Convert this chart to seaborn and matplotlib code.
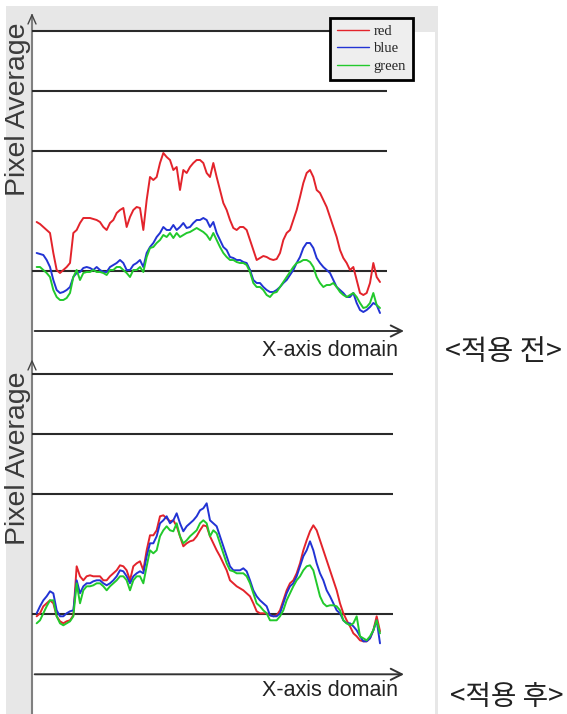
import numpy as np
import pandas as pd
import matplotlib
matplotlib.use("Agg")
import matplotlib.pyplot as plt
import seaborn as sns
from matplotlib.patches import Rectangle
from matplotlib.lines import Line2D

# ---------------- data ----------------
channels = ["red", "blue", "green"]
grid_levels = [60, 180, 240, 300]

before_red = [109, 107, 104, 101, 98, 78, 61, 58, 61, 64,
              68, 98, 101, 108, 113, 113, 113, 112, 111, 109,
              104, 101, 108, 111, 118, 121, 123, 104, 114, 121,
              124, 123, 101, 131, 154, 151, 154, 168, 178, 174,
              171, 161, 164, 141, 161, 158, 164, 168, 171, 171,
              168, 158, 154, 168, 154, 141, 128, 121, 111, 103,
              101, 104, 104, 101, 91, 81, 71, 73, 75, 74,
              72, 71, 72, 78, 91, 98, 101, 111, 121, 134,
              148, 158, 161, 154, 141, 138, 131, 124, 114, 104,
              94, 81, 73, 68, 61, 64, 51, 38, 36, 38,
              48, 68, 54, 49]
before_blue = [78, 77, 76, 71, 64, 51, 41, 38, 39, 41,
               44, 54, 58, 59, 63, 64, 63, 61, 64, 61,
               59, 59, 64, 66, 68, 71, 68, 61, 61, 66,
               68, 71, 64, 78, 84, 88, 94, 98, 104, 101,
               101, 106, 101, 104, 108, 103, 104, 108, 111, 111,
               113, 111, 104, 109, 98, 91, 84, 81, 74, 73,
               71, 71, 69, 68, 61, 51, 48, 48, 44, 41,
               39, 39, 41, 44, 48, 51, 56, 61, 68, 74,
               83, 88, 88, 83, 73, 68, 64, 61, 58, 51,
               44, 41, 38, 34, 34, 38, 28, 21, 19, 21,
               24, 28, 26, 18]
before_green = [64, 64, 61, 58, 54, 41, 34, 31, 31, 33,
                38, 54, 61, 51, 58, 59, 59, 61, 59, 59,
                58, 56, 61, 61, 64, 64, 61, 58, 54, 61,
                61, 64, 59, 74, 83, 84, 88, 91, 96, 94,
                98, 93, 98, 94, 96, 98, 99, 101, 103, 101,
                99, 96, 91, 98, 91, 84, 78, 74, 71, 71,
                69, 68, 68, 66, 59, 48, 44, 44, 41, 36,
                34, 38, 39, 44, 49, 54, 59, 64, 68, 69,
                71, 71, 69, 64, 54, 48, 44, 46, 46, 48,
                44, 39, 36, 34, 36, 38, 34, 28, 23, 24,
                28, 38, 26, 23]

after_red = [58, 61, 68, 71, 74, 71, 58, 53, 51, 53,
             54, 59, 108, 98, 94, 98, 99, 98, 98, 98,
             94, 94, 98, 101, 104, 109, 108, 104, 94, 108,
             111, 113, 104, 124, 139, 139, 144, 158, 159, 156,
             153, 154, 148, 138, 128, 131, 133, 134, 138, 144,
             149, 148, 138, 131, 124, 118, 111, 104, 94, 91,
             88, 86, 84, 81, 78, 71, 63, 61, 61, 61,
             59, 58, 59, 64, 74, 84, 91, 94, 101, 111,
             124, 134, 143, 149, 144, 134, 124, 114, 104, 94,
             84, 71, 61, 54, 48, 41, 38, 34, 33, 33,
             36, 44, 58, 43]
after_blue = [61, 68, 74, 78, 83, 81, 64, 58, 58, 61,
              63, 64, 94, 81, 88, 91, 91, 93, 94, 94,
              91, 89, 91, 94, 98, 104, 103, 98, 91, 98,
              101, 103, 101, 118, 131, 131, 138, 151, 154, 158,
              151, 154, 161, 151, 143, 148, 151, 154, 158, 164,
              166, 171, 154, 151, 148, 138, 128, 118, 108, 104,
              104, 104, 106, 103, 94, 84, 78, 74, 71, 68,
              59, 58, 58, 61, 71, 81, 88, 91, 98, 108,
              118, 124, 133, 124, 111, 101, 94, 84, 78, 71,
              64, 61, 54, 51, 51, 48, 44, 38, 33, 33,
              36, 44, 54, 31]
after_green = [51, 54, 61, 68, 74, 74, 58, 51, 49, 51,
               53, 58, 91, 71, 84, 88, 88, 89, 91, 91,
               88, 84, 88, 91, 94, 98, 98, 94, 84, 94,
               98, 98, 91, 108, 124, 121, 124, 138, 144, 148,
               144, 143, 151, 138, 131, 134, 138, 141, 144, 151,
               154, 151, 138, 144, 141, 131, 121, 111, 104, 103,
               101, 101, 101, 98, 91, 81, 71, 68, 64, 61,
               54, 54, 54, 58, 64, 74, 81, 88, 94, 98,
               104, 108, 109, 104, 91, 78, 71, 68, 69, 69,
               68, 64, 54, 51, 49, 51, 58, 38, 36, 34,
               38, 44, 54, 41]

y_label = "Pixel Average"
x_label = "X-axis domain"
panel_titles = ["<적용 전>", "<적용 후>"]

palette = {"red": "#e3232b", "blue": "#2233d4", "green": "#22c92c"}


def long_frame(red, blue, green):
    n = len(red)
    idx = np.arange(n)
    frames = []
    for name, vals in zip(channels, [red, blue, green]):
        frames.append(pd.DataFrame({"x": idx, "value": vals, "channel": name}))
    return pd.concat(frames, ignore_index=True)


df_before = long_frame(before_red, before_blue, before_green)
df_after = long_frame(after_red, after_blue, after_green)

# ---------------- drawing ----------------
sns.set_style("white")
plt.rcParams["font.family"] = ["Liberation Sans", "DejaVu Sans"]

W, H = 567, 714
fig = plt.figure(figsize=(W / 100, H / 100), dpi=100)

bg = fig.add_axes([0, 0, 1, 1])
bg.set_xlim(0, W)
bg.set_ylim(H, 0)
bg.axis("off")
bg.add_patch(Rectangle((6, 6), 432, H - 6, color="#e7e7e7", lw=0))
bg.add_patch(Rectangle((32, 32), 403, H - 32, color="white", lw=0))
# vertical axis line with chevrons
bg.plot([32, 32], [14, H], color="#808080", lw=1.5, solid_capstyle="butt")
for top in (15, 361):
    bg.plot([28, 32, 36], [top + 9, top, top + 9], color="#444444", lw=1.0)

for yc in (109, 458):
    bg.text(18, yc, y_label, rotation=90, ha="center", va="center",
            fontsize=20.5, color="#3a3a3a")
for yc in (351, 691):
    bg.text(398, yc, x_label, ha="right", va="center", fontsize=15.5,
            color="#222222")
bg.text(445, 352, panel_titles[0], ha="left", va="center", fontsize=20.5,
        family=["Noto Sans CJK KR", "DejaVu Sans"], color="#222222")
bg.text(564, 697, panel_titles[1], ha="right", va="center", fontsize=20,
        family=["Noto Sans CJK KR", "DejaVu Sans"], color="#222222")


def panel(px_top, px_bot, axis_px, df, grid_end, legend):
    rect = [32 / W, 1 - px_bot / H, (405 - 32) / W, (px_bot - px_top) / H]
    ax = fig.add_axes(rect)
    ax.patch.set_alpha(0)
    ax.hlines(grid_levels, -1.4, grid_end, color="#2a2a2a", lw=1.5, zorder=1)
    sns.lineplot(data=df, x="x", y="value", hue="channel",
                 hue_order=channels, palette=palette, estimator=None,
                 lw=1.4, ax=ax, legend=False, zorder=3)
    ax.annotate("", xy=(110.2, 0), xytext=(-0.6, 0),
                arrowprops=dict(arrowstyle="->", color="#333333", lw=1.4,
                                mutation_scale=20, shrinkA=0, shrinkB=0),
                zorder=2)
    ax.set_xlim(-1.4, 110.5)
    ax.set_ylim(axis_px - px_bot, axis_px - px_top)
    ax.axis("off")
    if legend:
        handles = [Line2D([], [], color=palette[c], lw=1.0) for c in channels]
        leg = ax.legend(handles, channels, loc="upper left",
                        bbox_to_anchor=(330 / W, 1 - 18 / H),
                        bbox_transform=fig.transFigure, borderaxespad=0,
                        prop={"family": "Liberation Serif", "size": 10.5},
                        handlelength=2.2, handletextpad=0.35,
                        labelspacing=0.3, borderpad=0.45,
                        fancybox=False, framealpha=1)
        fr = leg.get_frame()
        fr.set_edgecolor("black")
        fr.set_linewidth(2.0)
        fr.set_facecolor("#eeeeee")
        leg.set_zorder(10)
    return ax


panel(15, 360, 331, df_before, 105.1, True)
panel(360, 714, 674.3, df_after, 106.9, False)

fig.savefig("out.png", dpi=100)
